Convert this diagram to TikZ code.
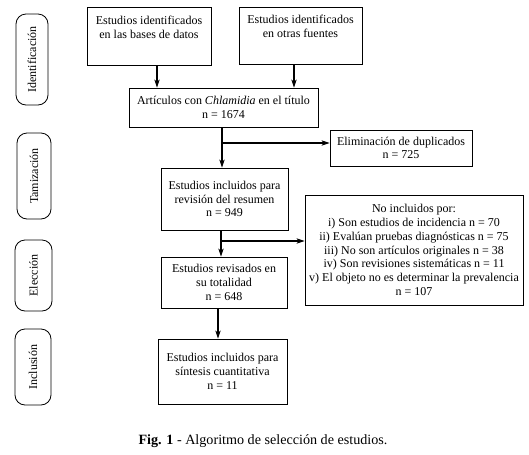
\documentclass[tikz,border=0pt]{standalone}
\usepackage{fontspec}
\setmainfont{Liberation Serif}
\usetikzlibrary{arrows.meta}
\tikzset{
  box/.style={draw, line width=0.6pt, align=center, inner sep=0pt, font=\fontsize{9}{10.3}\selectfont},
  pill/.style={draw, line width=0.6pt, rounded corners=7.5pt, rotate=90, inner sep=0pt, font=\fontsize{9}{10.3}\selectfont},
  arr/.style={line width=0.8pt, -{Stealth[length=6pt,width=4pt,inset=1.5pt]}},
  ln/.style={line width=0.8pt}
}
\begin{document}
\begin{tikzpicture}[x=0.75pt,y=-0.75pt]
\useasboundingbox (0,0) rectangle (529,454);
% phase pills
\node[pill, minimum width=91*0.75pt, minimum height=32*0.75pt] (p1) at (32,59.5) {Identificación};
\node[pill, minimum width=86*0.75pt, minimum height=34*0.75pt] (p2) at (34,176) {Tamización};
\node[pill, minimum width=71*0.75pt, minimum height=37*0.75pt] (p3) at (33.5,275.5) {Elección};
\node[pill, minimum width=76*0.75pt, minimum height=36*0.75pt] (p4) at (33,367) {Inclusión};
% boxes
\node[box, minimum width=124*0.75pt, minimum height=58*0.75pt] (b1) at (149,36) {Estudios identificados\\en las bases de datos\\[3pt]};
\node[box, minimum width=123*0.75pt, minimum height=57*0.75pt] (b2) at (300.5,35.5) {Estudios identificados\\en otras fuentes\\[3pt]};
\node[box, minimum width=189*0.75pt, minimum height=39*0.75pt] (art) at (223.5,107.5) {Artículos con \textit{Chlamidia} en el título\\n = 1674};
\node[box, minimum width=142*0.75pt, minimum height=36*0.75pt] (elim) at (401,148) {Eliminación de duplicados\\n = 725};
\node[box, minimum width=127*0.75pt, minimum height=62*0.75pt] (inc) at (224.5,199) {Estudios incluidos para\\revisión del resumen\\n = 949};
\node[box, minimum width=126*0.75pt, minimum height=51*0.75pt] (rev) at (224,282.5) {Estudios revisados en\\su totalidad\\n = 648};
\node[box, minimum width=218*0.75pt, minimum height=110*0.75pt] (noinc) at (414,250) {No incluidos por:\\i) Son estudios de incidencia n = 70\\ii) Evalúan pruebas diagnósticas n = 75\\iii) No son artículos originales n = 38\\iv) Son revisiones sistemáticas n = 11\\v) El objeto no es determinar la prevalencia\\n = 107};
\node[box, minimum width=129*0.75pt, minimum height=65*0.75pt] (fin) at (222.5,371.5) {Estudios incluidos para\\síntesis cuantitativa\\n = 11};
% connectors
\coordinate (a1) at (157,0);
\coordinate (a2) at (294,0);
\draw[arr] (a1 |- b1.south) -- (a1 |- art.north);
\draw[arr] (a2 |- b2.south) -- (a2 |- art.north);
\coordinate (c1) at (222,143);
\draw[arr] (c1 |- art.south) -- (c1 |- inc.north);
\draw[arr] (c1) -- (c1 -| elim.west);
\coordinate (c2) at (221,241);
\draw[arr] (c2 |- inc.south) -- (c2 |- rev.north);
\draw[arr] (c2) -- (c2 -| noinc.west);
\coordinate (c3) at (218,0);
\draw[arr] (c3 |- rev.south) -- (c3 |- fin.north);
% caption
\node[font=\fontsize{10.6}{12.5}\selectfont] (cap) at (263,441) {\textbf{Fig. 1} - Algoritmo de selección de estudios.};
\end{tikzpicture}
\end{document}
